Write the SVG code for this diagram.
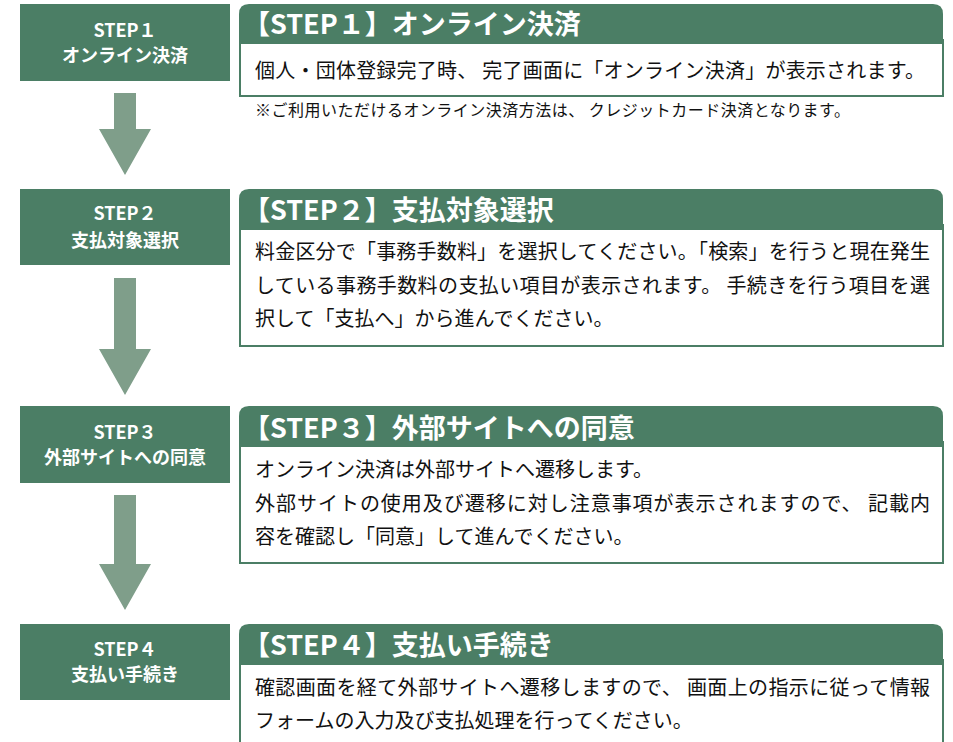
<svg xmlns="http://www.w3.org/2000/svg" width="953" height="742" viewBox="0 0 953 742">
<style>
.box{fill:#4b7e65}
.arr{fill:#7f9e8a}
.hd{fill:#4b7e65}
.bd{fill:#ffffff;stroke:#4b7e65;stroke-width:2}
.lt{font-family:"Noto Sans CJK JP","Noto Sans",sans-serif;font-weight:bold;fill:#ffffff;text-anchor:middle}
.ht{font-family:"Noto Sans CJK JP","Noto Sans",sans-serif;font-weight:bold;fill:#ffffff;font-size:27px}
.bt{font-family:"Noto Sans CJK JP","Noto Sans",sans-serif;fill:#111111;font-size:20px}
.nt{font-family:"Noto Sans CJK JP","Noto Sans",sans-serif;fill:#111111;font-size:16px}
</style>
<rect width="953" height="742" fill="#ffffff"/>
<g id="connectors">
<polygon class="arr" points="114,93 136,93 136,129 151,129 125,175 99,129 114,129"/>
<polygon class="arr" points="114,278 136,278 136,349 151,349 125,395 99,349 114,349"/>
<polygon class="arr" points="114,495 136,495 136,564 151,564 125,610 99,564 114,564"/>
</g>
<g id="step1">
<rect class="box" x="20" y="4" width="210" height="77"/>
<text class="lt" x="125" y="37" font-size="18">STEP１</text>
<text class="lt" x="125" y="62" font-size="18">オンライン決済</text>
</g>
<g id="step1-detail">
<rect class="bd" x="240" y="40" width="703" height="56"/>
<path class="hd" d="M239,44 V14 Q239,4 249,4 H933 Q943,4 943,14 V44 Z"/>
<text class="ht" x="243" y="34">【STEP１】オンライン決済</text>
<text class="bt" x="255" y="78" textLength="670" lengthAdjust="spacing">個人・団体登録完了時、 完了画面に「オンライン決済」が表示されます。</text>
<text class="nt" x="255" y="116" textLength="595" lengthAdjust="spacing">※ご利用いただけるオンライン決済方法は、 クレジットカード決済となります。</text>
</g>
<g id="step2">
<rect class="box" x="20" y="189" width="210" height="76"/>
<text class="lt" x="125" y="220" font-size="18">STEP２</text>
<text class="lt" x="125" y="247" font-size="18">支払対象選択</text>
</g>
<g id="step2-detail">
<rect class="bd" x="240" y="225" width="703" height="121"/>
<path class="hd" d="M239,230 V199 Q239,189 249,189 H933 Q943,189 943,199 V230 Z"/>
<text class="ht" x="243" y="220">【STEP２】支払対象選択</text>
<text class="bt" x="255" y="259" textLength="675" lengthAdjust="spacing">料金区分で「事務手数料」を選択してください。「検索」を行うと現在発生</text>
<text class="bt" x="255" y="293" textLength="675" lengthAdjust="spacing">している事務手数料の支払い項目が表示されます。 手続きを行う項目を選</text>
<text class="bt" x="255" y="326">択して「支払へ」から進んでください。</text>
</g>
<g id="step3">
<rect class="box" x="20" y="406" width="210" height="77"/>
<text class="lt" x="125" y="439" font-size="18">STEP３</text>
<text class="lt" x="125" y="464" font-size="18">外部サイトへの同意</text>
</g>
<g id="step3-detail">
<rect class="bd" x="240" y="442" width="703" height="121"/>
<path class="hd" d="M239,447 V416 Q239,406 249,406 H933 Q943,406 943,416 V447 Z"/>
<text class="ht" x="243" y="438">【STEP３】外部サイトへの同意</text>
<text class="bt" x="255" y="477">オンライン決済は外部サイトへ遷移します。</text>
<text class="bt" x="255" y="511" textLength="675" lengthAdjust="spacing">外部サイトの使用及び遷移に対し注意事項が表示されますので、 記載内</text>
<text class="bt" x="255" y="544">容を確認し「同意」して進んでください。</text>
</g>
<g id="step4">
<rect class="box" x="20" y="624" width="210" height="76"/>
<text class="lt" x="125" y="656" font-size="18">STEP４</text>
<text class="lt" x="125" y="681" font-size="18">支払い手続き</text>
</g>
<g id="step4-detail">
<rect class="bd" x="240" y="660" width="703" height="100"/>
<path class="hd" d="M239,665 V634 Q239,624 249,624 H933 Q943,624 943,634 V665 Z"/>
<text class="ht" x="243" y="655">【STEP４】支払い手続き</text>
<text class="bt" x="255" y="695" textLength="675" lengthAdjust="spacing">確認画面を経て外部サイトへ遷移しますので、 画面上の指示に従って情報</text>
<text class="bt" x="255" y="728">フォームの入力及び支払処理を行ってください。</text>
</g>
</svg>
